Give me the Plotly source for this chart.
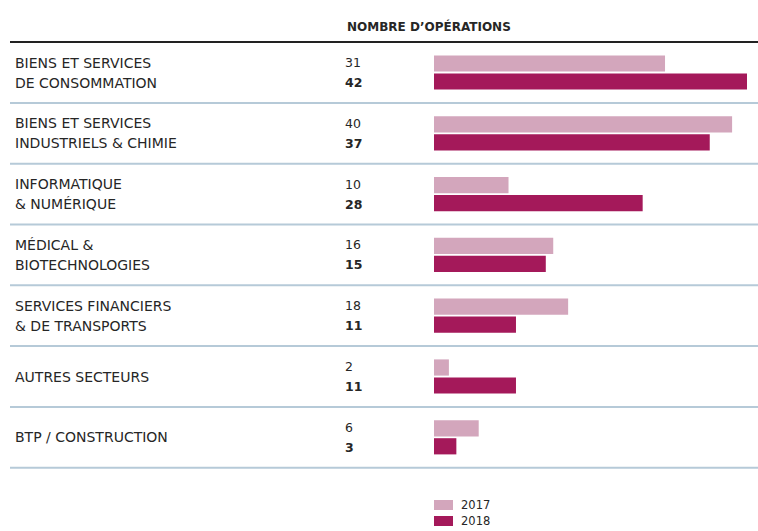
import plotly.graph_objects as go

# ---- data ----
sectors = [
    "BIENS ET SERVICES\nDE CONSOMMATION",
    "BIENS ET SERVICES\nINDUSTRIELS & CHIMIE",
    "INFORMATIQUE\n& NUMÉRIQUE",
    "MÉDICAL &\nBIOTECHNOLOGIES",
    "SERVICES FINANCIERS\n& DE TRANSPORTS",
    "AUTRES SECTEURS",
    "BTP / CONSTRUCTION",
]
ops_2017 = [31, 40, 10, 16, 18, 2, 6]
ops_2018 = [42, 37, 28, 15, 11, 11, 3]
years = ["2017", "2018"]
header = "NOMBRE D’OPÉRATIONS"

# ---- style ----
W, H = 758, 531
col_2017 = "#D3A6BC"
col_2018 = "#A4195A"
txt_col = "#262626"
sep_col = "#B6CAD8"
FONT = "DejaVu Sans"

cats = [s.replace("\n", " ") for s in sectors]

fig = go.Figure()
fig.add_trace(go.Bar(orientation="h", x=ops_2017, y=cats, name=years[0],
                     marker=dict(color=col_2017, line=dict(width=0)),
                     showlegend=False))
fig.add_trace(go.Bar(orientation="h", x=ops_2018, y=cats, name=years[1],
                     marker=dict(color=col_2018, line=dict(width=0)),
                     showlegend=False))

ann = []
shapes = []
px = lambda v: v / W
py = lambda v: 1 - v / H

# header
ann.append(dict(text="<b>" + header + "</b>", x=px(345), y=py(27), xref="paper", yref="paper",
                xanchor="left", yanchor="middle", showarrow=False,
                font=dict(family=FONT, size=12, color=txt_col)))

# top dark line
shapes.append(dict(type="line", xref="paper", yref="y", x0=px(10), x1=1, y0=-0.5, y1=-0.5,
                   line=dict(color="#222222", width=2)))

for i, s in enumerate(sectors):
    lines = s.split("\n")
    shifts = [10, -10] if len(lines) == 2 else [0]
    for ln, sh in zip(lines, shifts):
        ann.append(dict(text=ln, x=px(13), y=i, xref="paper", yref="y", yshift=sh,
                        xanchor="left", yanchor="middle", showarrow=False,
                        font=dict(family=FONT, size=14, color=txt_col)))
    ann.append(dict(text=str(ops_2017[i]), x=px(343), y=i, xref="paper", yref="y", yshift=10,
                    xanchor="left", yanchor="middle", showarrow=False,
                    font=dict(family=FONT, size=12.5, color=txt_col)))
    ann.append(dict(text="<b>" + str(ops_2018[i]) + "</b>", x=px(343), y=i, xref="paper", yref="y",
                    yshift=-10, xanchor="left", yanchor="middle", showarrow=False,
                    font=dict(family=FONT, size=12.5, color=txt_col)))
    shapes.append(dict(type="line", xref="paper", yref="y", x0=px(10), x1=1, y0=i + 0.5, y1=i + 0.5,
                       line=dict(color=sep_col, width=2)))

# legend
for k, (yr, c) in enumerate(zip(years, [col_2017, col_2018])):
    top = 500 + 16 * k
    shapes.append(dict(type="rect", xref="paper", yref="paper", x0=px(434), x1=px(453),
                       y0=py(top + 10), y1=py(top), fillcolor=c, line=dict(width=0)))
    ann.append(dict(text=yr, x=px(459), y=py(top + 5), xref="paper", yref="paper",
                    xanchor="left", yanchor="middle", showarrow=False,
                    font=dict(family=FONT, size=11.5, color=txt_col)))

row_px = 60.8
c0 = 72.5
fig.update_layout(
    width=W, height=H, margin=dict(l=0, r=0, t=0, b=0),
    paper_bgcolor="white", plot_bgcolor="white",
    barmode="group", bargap=0.408, bargroupgap=0.1,
    xaxis=dict(domain=[px(434), 1], range=[0, (W - 434) / (313 / 42)], visible=False, fixedrange=True),
    yaxis=dict(type="category", categoryorder="array", categoryarray=cats,
               range=[(H - c0) / row_px, -c0 / row_px], visible=False, fixedrange=True),
    annotations=ann, shapes=shapes,
)
fig.write_html("out.html", config={"displayModeBar": False},
               post_script="document.body.style.margin='0';document.body.style.overflow='hidden';")
